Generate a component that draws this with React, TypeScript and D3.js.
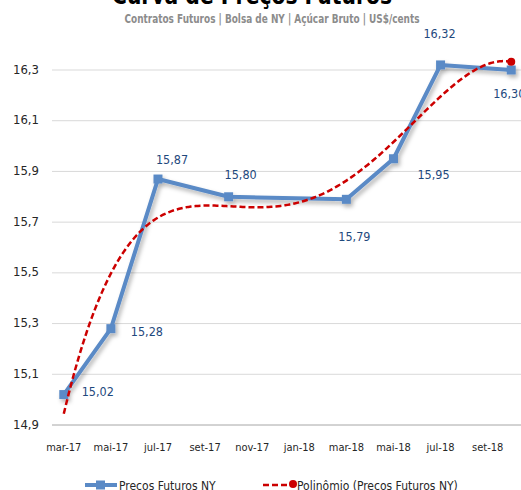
import * as d3 from "d3"

document.body.style.margin = "0"

// months on the date axis (one slot per month, labels every two)
const months = [
  "mar-17", "abr-17", "mai-17", "jun-17", "jul-17", "ago-17", "set-17", "out-17", "nov-17", "dez-17",
  "jan-18", "fev-18", "mar-18", "abr-18", "mai-18", "jun-18", "jul-18", "ago-18", "set-18", "out-18",
]
const axisLabels = ["mar-17", "mai-17", "jul-17", "set-17", "nov-17", "jan-18", "mar-18", "mai-18", "jul-18", "set-18"]

// contract months and prices
const contracts = ["mar-17", "mai-17", "jul-17", "out-17", "mar-18", "mai-18", "jul-18", "out-18"]
const prices = [15.02, 15.28, 15.87, 15.8, 15.79, 15.95, 16.32, 16.3]
const yTicks = [14.9, 15.1, 15.3, 15.5, 15.7, 15.9, 16.1, 16.3]

// label offsets from each point
const labelDx = [34, 36, 14, 12, 8, 40, -1, -2]
const labelDy = [-2, 4, -19, -21, 38, 17, -30, 24]

const FONT = "'DejaVu Sans Condensed', 'Liberation Sans Narrow', Lato, sans-serif"

// least squares polynomial (like Excel's trendline)
function polyFit(xs: number[], ys: number[], order: number) {
  const n = order + 1
  const A = Array.from({ length: n }, () => new Array(n + 1).fill(0))
  xs.forEach((x, k) => {
    for (let i = 0; i < n; i++) {
      for (let j = 0; j < n; j++) A[i][j] += Math.pow(x, i + j)
      A[i][n] += Math.pow(x, i) * ys[k]
    }
  })
  for (let c = 0; c < n; c++) {
    let p = c
    for (let r = c + 1; r < n; r++) if (Math.abs(A[r][c]) > Math.abs(A[p][c])) p = r
    ;[A[c], A[p]] = [A[p], A[c]]
    for (let r = 0; r < n; r++) {
      if (r === c) continue
      const f = A[r][c] / A[c][c]
      for (let k = c; k <= n; k++) A[r][k] -= f * A[c][k]
    }
  }
  const coef = A.map((row, i) => row[n] / row[i])
  return (x: number) => coef.reduce((s, c, i) => s + c * Math.pow(x, i), 0)
}

export default function App() {
  const width = 521
  const height = 490

  const x = d3.scaleBand<string>().domain(months).range([52, 523])
  const cx = (m: string) => (x(m) ?? 0) + x.bandwidth() / 2
  const y = d3.scaleLinear().domain([14.9, 16.3]).range([425, 70])

  const pts = contracts.map((m, i) => ({ m, v: prices[i], px: cx(m), py: y(prices[i]) }))

  // trend on month index, scaled to 0..1 for stability
  const idx = contracts.map((m) => months.indexOf(m) / (months.length - 1))
  const trend = polyFit(idx, prices, 4)
  const first = months.indexOf(contracts[0])
  const last = months.indexOf(contracts[contracts.length - 1])
  const trendPts = d3.range(first, last + 0.001, 0.1).map((t) => {
    const u = t / (months.length - 1)
    return [cx(months[0]) + t * x.step(), y(trend(u))] as [number, number]
  })
  const trendLine = d3.line().curve(d3.curveLinear)(trendPts) ?? ""
  const priceLine = d3.line<(typeof pts)[0]>().x((d) => d.px).y((d) => d.py)(pts) ?? ""
  const endPt = trendPts[trendPts.length - 1]

  const fmt = (v: number) => v.toFixed(2).replace(".", ",")
  const fmtTick = (v: number) => v.toFixed(1).replace(".", ",")

  return (
    <svg width={width} height={height} style={{ display: "block", background: "#fff" }} fontFamily={FONT}>
      <defs>
        <filter id="shadow" x="-10%" y="-10%" width="120%" height="130%">
          <feDropShadow dx="2" dy="3" stdDeviation="2" floodColor="#000" floodOpacity="0.3" />
        </filter>
      </defs>

      <text x={252} y={4} textAnchor="middle" fontSize={24} fontWeight="bold" fill="#000" textLength={280} lengthAdjust="spacingAndGlyphs">
        Curva de Preços Futuros
      </text>
      <text x={272} y={23} textAnchor="middle" fontSize={11.5} fontWeight="bold" fill="#8c8c8c" textLength={295} lengthAdjust="spacingAndGlyphs">
        Contratos Futuros | Bolsa de NY | Açúcar Bruto | US$/cents
      </text>

      {yTicks.map((t) => (
        <g key={t}>
          <line x1={52} x2={521} y1={y(t)} y2={y(t)} stroke={t === 14.9 ? "#a6a6a6" : "#d9d9d9"} strokeWidth={1} />
          <text x={39} y={y(t)} textAnchor="end" dominantBaseline="middle" fontSize={13} fill="#262626">
            {fmtTick(t)}
          </text>
        </g>
      ))}

      {axisLabels.map((m) => (
        <text key={m} x={cx(m)} y={451} textAnchor="middle" fontSize={11} fill="#262626">
          {m}
        </text>
      ))}

      <g filter="url(#shadow)">
        <path d={priceLine} fill="none" stroke="#5a8ac6" strokeWidth={4} strokeLinejoin="round" />
        {pts.map((p) => (
          <rect key={p.m} x={p.px - 4.5} y={p.py - 4.5} width={9} height={9} fill="#5a8ac6" />
        ))}
      </g>

      <path d={trendLine} fill="none" stroke="#cc0000" strokeWidth={2.5} strokeDasharray="6,3" />
      <circle cx={endPt[0]} cy={endPt[1]} r={4} fill="#cc0000" />

      {pts.map((p, i) => (
        <text
          key={p.m}
          x={p.px + labelDx[i]}
          y={p.py + labelDy[i]}
          textAnchor="middle"
          dominantBaseline="middle"
          fontSize={12.5}
          fill="#1f497d"
        >
          {fmt(p.v)}
        </text>
      ))}

      <g>
        <line x1={85} x2={117} y1={485} y2={485} stroke="#5a8ac6" strokeWidth={4} />
        <rect x={96} y={480.5} width={9} height={9} fill="#5a8ac6" />
        <text x={119} y={490} fontSize={12} fill="#262626">
          Precos Futuros NY
        </text>
        <line x1={263} x2={291} y1={485} y2={485} stroke="#cc0000" strokeWidth={2.5} strokeDasharray="6,3" />
        <circle cx={293} cy={484} r={4} fill="#cc0000" />
        <text x={297} y={490} fontSize={12} fill="#262626">
          Polinômio (Precos Futuros NY)
        </text>
      </g>
    </svg>
  )
}
